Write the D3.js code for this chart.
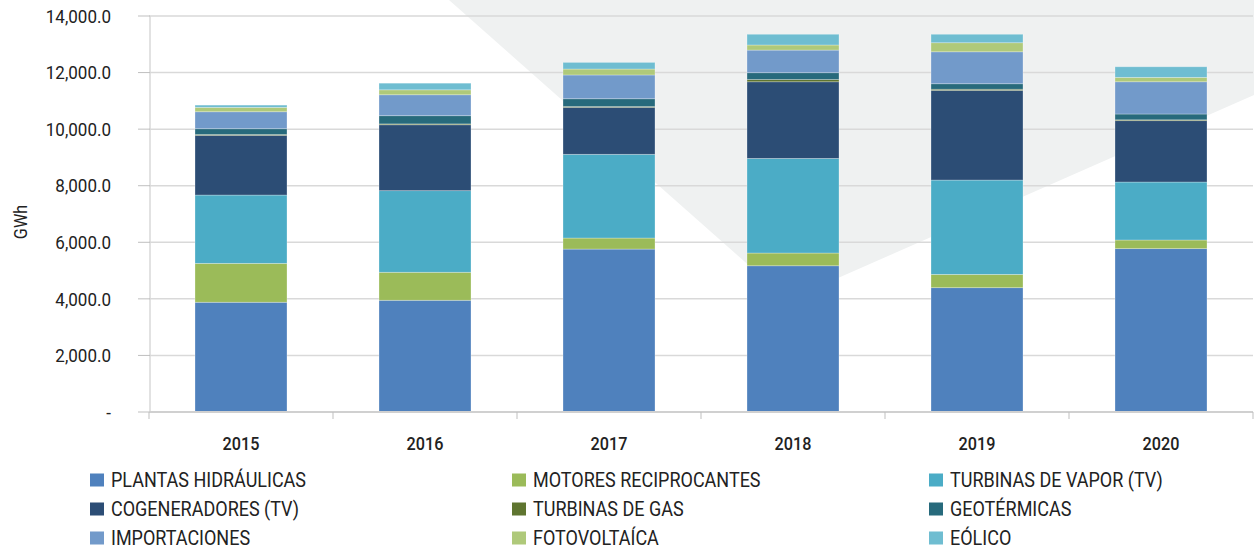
<!DOCTYPE html>
<html>
<head>
<meta charset="utf-8">
<script src="https://cdn.jsdelivr.net/npm/d3@7"></script>
<style>
  body { margin: 0; background: #fff; }
  svg { display: block; font-family: Roboto, "Noto Sans", sans-serif; }
</style>
</head>
<body>
<svg id="chart" width="1254" height="550"></svg>
<script>
// years and series (GWh), bottom to top
const years = ["2015", "2016", "2017", "2018", "2019", "2020"];
const hidraulicas   = [3880, 3950, 5760, 5170, 4395, 5775];
const motores       = [1375,  990,  390,  450,  470,  305];
const vapor         = [2415, 2885, 2960, 3345, 3335, 2050];
const cogeneradores = [2110, 2330, 1660, 2710, 3170, 2170];
const gas           = [  30,   30,   30,   80,   40,   30];
const geotermicas   = [ 205,  290,  275,  240,  195,  205];
const importaciones = [ 600,  740,  840,  800, 1130, 1140];
const fotovoltaica  = [ 155,  175,  210,  180,  320,  155];
const eolico        = [  80,  235,  235,  380,  300,  375];
const yTicks = [0, 2000, 4000, 6000, 8000, 10000, 12000, 14000];

const series = [
  { key: "hid", name: "PLANTAS HIDRÁULICAS", values: hidraulicas, color: "#4f81bd" },
  { key: "mot", name: "MOTORES RECIPROCANTES", values: motores, color: "#9bbb59" },
  { key: "tv", name: "TURBINAS DE VAPOR (TV)", values: vapor, color: "#4bacc6" },
  { key: "cog", name: "COGENERADORES (TV)", values: cogeneradores, color: "#2c4d75" },
  { key: "gas", name: "TURBINAS DE GAS", values: gas, color: "#5f7530" },
  { key: "geo", name: "GEOTÉRMICAS", values: geotermicas, color: "#276a7c" },
  { key: "imp", name: "IMPORTACIONES", values: importaciones, color: "#729aca" },
  { key: "fv", name: "FOTOVOLTAÍCA", values: fotovoltaica, color: "#afc97a" },
  { key: "eol", name: "EÓLICO", values: eolico, color: "#6fbdd1" }
];

const svg = d3.select("#chart");
const SX = 0.9; // squeeze Roboto to look like the condensed face

// background decoration
svg.append("polygon")
  .attr("points", "449,0 1254,0 1254,95 788,300")
  .attr("fill", "#eff1f1");

const plotL = 149, plotR = 1253, plotT = 16, plotB = 412;

const x = d3.scaleBand().domain(years).range([plotL, plotR])
  .paddingInner(0.5).paddingOuter(0.25);
const y = d3.scaleLinear().domain([0, 14000]).range([plotB, plotT]);

// grid
svg.append("g").selectAll("line")
  .data(yTicks.filter(d => d > 0))
  .join("line")
  .attr("x1", plotL).attr("x2", plotR)
  .attr("y1", d => y(d)).attr("y2", d => y(d))
  .attr("stroke", "#d9d9d9").attr("stroke-width", 1.5);

// y axis line + ticks
svg.append("line")
  .attr("x1", plotL + 1).attr("x2", plotL + 1)
  .attr("y1", plotT).attr("y2", plotB)
  .attr("stroke", "#d9d9d9").attr("stroke-width", 1.5);
svg.append("g").selectAll("line")
  .data(yTicks)
  .join("line")
  .attr("x1", 138).attr("x2", plotL + 1)
  .attr("y1", d => y(d)).attr("y2", d => y(d))
  .attr("stroke", "#bfbfbf").attr("stroke-width", 1);

const fmt = d3.format(",.1f");
svg.append("g").selectAll("g")
  .data(yTicks)
  .join("g")
  .attr("transform", d => `translate(111,${y(d)}) scale(0.92,1)`)
  .append("text")
  .attr("text-anchor", "end")
  .attr("dy", "0.36em")
  .attr("font-size", 18.5)
  .attr("fill", "#222")
  .text(d => d === 0 ? "-" : fmt(d));

// y title
svg.append("text")
  .attr("transform", `translate(27,${(plotT + plotB) / 2 + 8}) rotate(-90) scale(${SX},1)`)
  .attr("text-anchor", "middle")
  .attr("font-size", 18)
  .attr("fill", "#222")
  .text("GWh");

// stacked bars
const table = years.map((yr, i) => {
  const row = { year: yr };
  series.forEach(s => row[s.key] = s.values[i]);
  return row;
});
const stack = d3.stack().keys(series.map(s => s.key));
const layers = stack(table);

svg.append("g").selectAll("g")
  .data(layers)
  .join("g")
  .attr("fill", (d, i) => series[i].color)
  .selectAll("rect")
  .data(d => d)
  .join("rect")
  .attr("x", d => x(d.data.year))
  .attr("width", x.bandwidth())
  .attr("y", d => y(d[1]))
  .attr("height", d => y(d[0]) - y(d[1]))
  .attr("stroke", "rgba(255,255,255,0.35)")
  .attr("stroke-width", 0.8);

// x axis line + ticks at band edges
svg.append("line")
  .attr("x1", plotL).attr("x2", plotR)
  .attr("y1", plotB).attr("y2", plotB)
  .attr("stroke", "#d0d0d0").attr("stroke-width", 2);
const edges = d3.range(years.length + 1).map(i => plotL + i * x.step());
svg.append("g").selectAll("line")
  .data(edges)
  .join("line")
  .attr("x1", d => d).attr("x2", d => d)
  .attr("y1", plotB).attr("y2", plotB + 7)
  .attr("stroke", "#bfbfbf").attr("stroke-width", 1);

svg.append("g").selectAll("g")
  .data(years)
  .join("g")
  .attr("transform", d => `translate(${x(d) + x.bandwidth() / 2},450) scale(0.9,1)`)
  .append("text")
  .attr("text-anchor", "middle")
  .attr("font-size", 18)
  .attr("font-weight", 500)
  .attr("fill", "#222")
  .text(d => d);

// legend, 3 columns
const colX = [90, 512, 929];
const rowY = [480, 509, 538];
const leg = svg.append("g").selectAll("g")
  .data(series)
  .join("g")
  .attr("transform", (d, i) => `translate(${colX[i % 3]},${rowY[Math.floor(i / 3)]})`);
leg.append("rect")
  .attr("x", 0).attr("y", -6.5)
  .attr("width", 14).attr("height", 13)
  .attr("fill", d => d.color);
leg.append("g")
  .attr("transform", `translate(21,0) scale(${SX},1)`)
  .append("text")
  .attr("dy", "0.36em")
  .attr("font-size", 20)
  .attr("fill", "#222")
  .text(d => d.name);
</script>
</body>
</html>
